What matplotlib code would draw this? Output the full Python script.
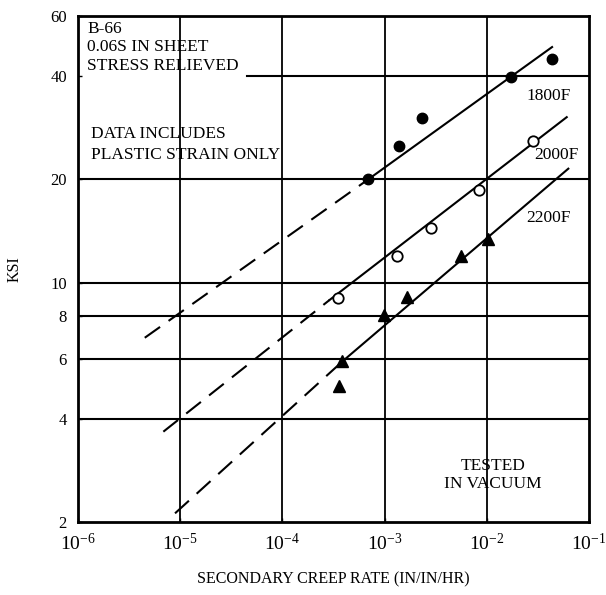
import numpy as np
import matplotlib.pyplot as plt

plt.rcParams['font.family'] = ['Liberation Serif', 'DejaVu Serif']
plt.rcParams['mathtext.fontset'] = 'custom'
plt.rcParams['mathtext.rm'] = 'Liberation Serif'
plt.rcParams['mathtext.it'] = 'Liberation Serif'

# creep test points (rate in/in/hr, stress ksi)
rate_1800 = [6.9e-4, 1.38e-3, 2.32e-3, 1.73e-2, 4.38e-2]
ksi_1800 = [20.0, 25.1, 30.2, 39.9, 44.8]
rate_2000 = [3.47e-4, 1.33e-3, 2.83e-3, 8.45e-3, 2.85e-2]
ksi_2000 = [9.0, 11.95, 14.45, 18.6, 25.9]
rate_2200 = [3.58e-4, 3.8e-4, 9.9e-4, 1.67e-3, 5.59e-3, 1.02e-2]
ksi_2200 = [4.99, 5.91, 8.04, 9.1, 11.95, 13.4]

# fitted lines: start of extrapolation, start of solid part, end
fit_rate_1800 = [4.5e-6, 6.9e-4, 4.35e-2]
fit_ksi_1800 = [6.9, 20.0, 48.7]
fit_rate_2000 = [6.84e-6, 2.9e-4, 6.05e-2]
fit_ksi_2000 = [3.67, 8.9, 30.4]
fit_rate_2200 = [8.9e-6, 3.9e-4, 6.27e-2]
fit_ksi_2200 = [2.12, 5.9, 21.5]

ytick_vals = [2, 4, 6, 8, 10, 20, 40, 60]
xtick_vals = [1e-6, 1e-5, 1e-4, 1e-3, 1e-2, 1e-1]
xtick_labels = ['$10^{-6}$', '$10^{-5}$', '$10^{-4}$', '$10^{-3}$', '$10^{-2}$', '$10^{-1}$']
hgrid = [4, 6, 8, 10, 20]
vgrid = [1e-5, 1e-4, 1e-3, 1e-2]

fig = plt.figure(figsize=(6.06, 5.95), dpi=100)
ax = fig.add_axes([0.1287, 0.1227, 0.8433, 0.8504])
ax.set_xscale('log')
ax.set_yscale('log')
ax.set_xlim(1e-6, 1e-1)
ax.set_ylim(2, 60)

for y in hgrid:
    ax.axhline(y, color='black', lw=1.5, zorder=1)
ax.axhline(40, xmin=0.33, color='black', lw=1.5, zorder=1)
for x in vgrid:
    ax.axvline(x, color='black', lw=1.3, zorder=1)

for fr, fk in [(fit_rate_1800, fit_ksi_1800), (fit_rate_2000, fit_ksi_2000),
               (fit_rate_2200, fit_ksi_2200)]:
    ax.plot(fr[:2], fk[:2], color='black', lw=1.5, ls=(0, (9, 5)), zorder=2)
    ax.plot(fr[1:], fk[1:], color='black', lw=1.5, zorder=2)

ax.plot(rate_1800, ksi_1800, 'o', color='black', ms=7.5, zorder=3)
ax.plot(rate_2000, ksi_2000, 'o', mfc='white', mec='black', mew=1.3, ms=7.5, zorder=3)
ax.plot(rate_2200, ksi_2200, '^', color='black', ms=8, zorder=3)

ax.set_yticks(ytick_vals)
ax.set_yticklabels([str(v) for v in ytick_vals], fontsize=12)
ax.set_xticks(xtick_vals)
ax.set_xticklabels(xtick_labels, fontsize=14)
ax.minorticks_off()
ax.tick_params(axis='both', length=3, width=1, direction='in', pad=8)
ax.tick_params(axis='x', pad=8)

for s in ax.spines.values():
    s.set_linewidth(2)

tkw = dict(fontsize=12.5, color='black', zorder=4)
ax.text(0.018, 0.99, 'B-66\n0.06S IN SHEET\nSTRESS RELIEVED', transform=ax.transAxes,
        va='top', ha='left', linespacing=1.2, **tkw)
ax.text(0.025, 0.782, 'DATA INCLUDES\nPLASTIC STRAIN ONLY', transform=ax.transAxes,
        va='top', ha='left', linespacing=1.35, **tkw)
ax.text(0.92, 0.842, '1800F', transform=ax.transAxes, ha='center', va='center', **tkw)
ax.text(0.937, 0.725, '2000F', transform=ax.transAxes, ha='center', va='center', **tkw)
ax.text(0.92, 0.60, '2200F', transform=ax.transAxes, ha='center', va='center', **tkw)
ax.text(0.812, 0.093, 'TESTED\nIN VACUUM', transform=ax.transAxes, ha='center', va='center',
        linespacing=1.2, **tkw)

ax.set_xlabel('SECONDARY CREEP RATE (IN/IN/HR)', fontsize=11.5, labelpad=12)
ax.set_ylabel('KSI', fontsize=11.5, labelpad=20)

fig.savefig('out.png', dpi=100)
